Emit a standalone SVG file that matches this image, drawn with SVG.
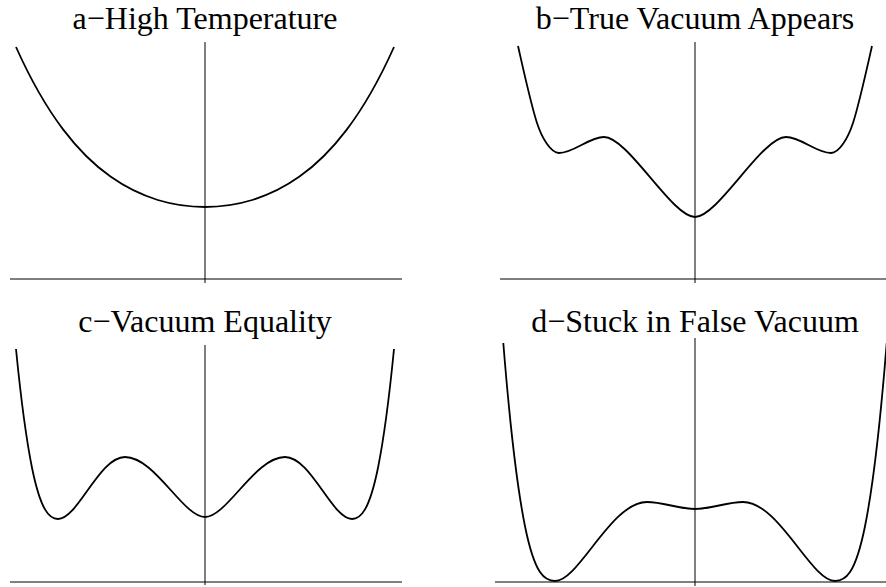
<svg xmlns="http://www.w3.org/2000/svg" width="886" height="587" viewBox="0 0 886 587">
<style>
.axis{stroke:#000;stroke-width:1;fill:none}
.curve{stroke:#000;stroke-width:1.8;fill:none;stroke-linejoin:round;stroke-linecap:butt}
.title{font-family:"Liberation Serif","Times New Roman",serif;font-size:32px;text-anchor:middle;fill:#000}
</style>
<rect width="886" height="587" fill="#fff"/>
<g id="panel-a">
<text class="title" x="205" y="29">a−High Temperature</text>
<line class="axis" x1="205" y1="42" x2="205" y2="283"/>
<line class="axis" x1="10" y1="279" x2="402" y2="279"/>
<path class="curve" d="M16,47 C31.75,82.2 47.5,108.8 63.25,129.6 C79,150.4 94.75,165.4 110.5,176.6 C126.25,187.8 142,195.2 157.75,200 C173.5,204.8 189.25,207 205,207 C220.75,207 236.5,204.8 252.25,200 C268,195.2 283.75,187.8 299.5,176.6 C315.25,165.4 331,150.4 346.75,129.6 C362.5,108.8 378.25,82.2 394,47"/>
</g>
<g id="panel-b">
<text class="title" x="695" y="29">b−True Vacuum Appears</text>
<line class="axis" x1="695" y1="42" x2="695" y2="283"/>
<line class="axis" x1="500" y1="279" x2="886" y2="279"/>
<path class="curve" d="M518,46 C524,72.4 531,104.5 537,123 C542,138.4 551,153 559,153 C574,153 589,137 604,137 C628,137 672,217 695,217 C718,217 762,137 786,137 C801,137 816,153 831,153 C839,153 848,138.4 853,123 C859,104.5 866,72.4 872,46"/>
</g>
<g id="panel-c">
<text class="title" x="205" y="332">c−Vacuum Equality</text>
<line class="axis" x1="205" y1="345" x2="205" y2="585"/>
<line class="axis" x1="10" y1="582" x2="402" y2="582"/>
<path class="curve" d="M16,349 C21.3,402.8 26.7,441.4 32,467.7 C40.7,510.4 49.3,519 58,519 C78,519 99,457 125,457 C155,457 183,517 205,517 C227,517 255,457 285,457 C311,457 332,519 352,519 C360.7,519 369.3,510.4 378,467.7 C383.3,441.4 388.7,402.8 394,349"/>
</g>
<g id="panel-d">
<text class="title" x="695" y="332">d−Stuck in False Vacuum</text>
<line class="axis" x1="695" y1="338" x2="695" y2="586"/>
<line class="axis" x1="495" y1="582" x2="886" y2="582"/>
<path class="curve" d="M503.3,343 C510.5,432.7 517.8,490.6 525,526.2 C535,575.5 545,581 555,581 C579,581 611,502 647,502 C663,502 679,509 695,509 C711,509 727,502 743,502 C779,502 811,581 835,581 C845,581 855,575.5 865,526.2 C872.2,490.6 879.5,432.7 886.7,343"/>
</g>
</svg>
